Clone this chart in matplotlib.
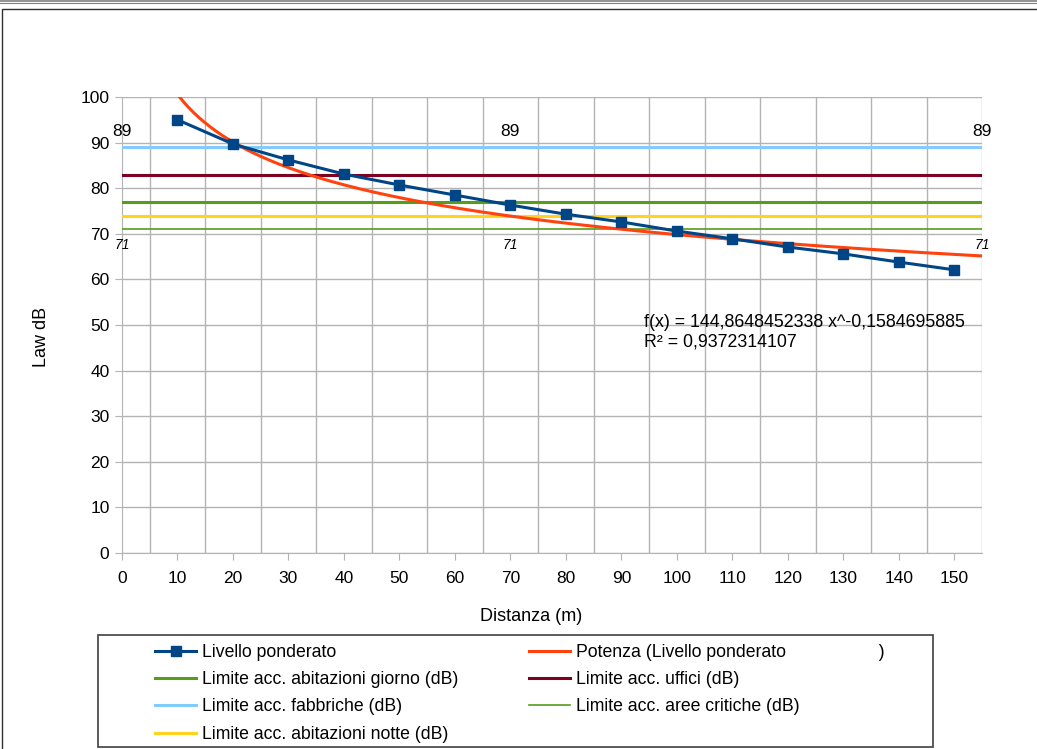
import numpy as np
import matplotlib.pyplot as plt
from matplotlib.patches import Rectangle
from matplotlib.lines import Line2D

plt.rcParams['font.family'] = ['Liberation Sans', 'DejaVu Sans']

# Dati
distanza = [10, 20, 30, 40, 50, 60, 70, 80, 90, 100, 110, 120, 130, 140, 150]
livello = [95.0, 89.7, 86.2, 83.1, 80.7, 78.5, 76.3, 74.3, 72.6, 70.6, 68.9, 67.1, 65.6, 63.8, 62.1]

# coefficienti della linea di tendenza (potenza) riportati sul grafico
coef_a = 144.8648452338
coef_b = -0.1584695885
r2 = 0.9372314107

limiti_nomi = ["Limite acc. abitazioni giorno (dB)", "Limite acc. uffici (dB)",
               "Limite acc. fabbriche (dB)", "Limite acc. aree critiche (dB)",
               "Limite acc. abitazioni notte (dB)"]
limiti_valori = [77, 83, 89, 71, 74]
limiti_colori = ["#579d1c", "#7e0021", "#83caff", "#579d1c", "#ffd320"]
limiti_spessori = [2.2, 2.2, 2.2, 1.2, 2.2]

etichette_x = [0, 70, 155]

W, H = 1037, 749
fig = plt.figure(figsize=(W / 100, H / 100), dpi=100)
ax = fig.add_axes([122/W, 1-553/H, (982-122)/W, (553-97)/H])

# cornice esterna
fig.add_artist(Line2D([0, 1], [1-0.8/H, 1-0.8/H], color="#808080", lw=1.2, transform=fig.transFigure))
fig.add_artist(Line2D([0, 1], [1-2.5/H, 1-2.5/H], color="#808080", lw=0.8, transform=fig.transFigure))
fig.add_artist(Rectangle((2/W, -0.05), 1.5, 1-9/H+0.05, transform=fig.transFigure,
                         fill=False, edgecolor="#303030", lw=1.0))

# linee orizzontali dei limiti
for val, col, lw in zip(limiti_valori, limiti_colori, limiti_spessori):
    ax.plot([0, 155], [val, val], color=col, lw=lw, zorder=3)

# linea di tendenza
xt = np.linspace(10, 155, 300)
ax.plot(xt, coef_a * xt ** coef_b, color="#ff420e", lw=2.2, zorder=4)

# serie misurata
ax.plot(distanza, livello, color="#004586", lw=2.2, marker="s", ms=7, zorder=5)

# etichette dati 89 / 71
for x in etichette_x:
    ax.annotate("89", (x, 89), xytext=(0, 6), textcoords="offset points",
                ha="center", va="bottom", fontsize=12.5, clip_on=False)
    ax.annotate("71", (x, 71), xytext=(0, -6), textcoords="offset points",
                ha="center", va="top", fontsize=10, style="italic", clip_on=False)

ax.text(94.1, 48.4, "f(x) = 144,8648452338 x^-0,1584695885\nR² = 0,9372314107",
        fontsize=12.8, va="center", ha="left", linespacing=1.15)

ax.set_xlim(0, 155)
ax.set_ylim(0, 100)
ax.set_xticks(range(0, 151, 10))
ax.set_xticks(range(5, 156, 10), minor=True)
ax.set_yticks(range(0, 101, 10))
ax.grid(which="minor", axis="x", color="#b3b3b3", lw=1)
ax.grid(which="major", axis="y", color="#b3b3b3", lw=1)
ax.set_axisbelow(True)
ax.tick_params(axis="both", which="major", length=5, color="#b3b3b3", labelsize=12.5, pad=4)
ax.tick_params(axis="x", which="minor", length=0)
ax.tick_params(axis="x", pad=8)
for s in ["top", "right"]:
    ax.spines[s].set_visible(False)
for s in ["left", "bottom"]:
    ax.spines[s].set_color("#b3b3b3")

ax.set_xlabel("Distanza (m)", fontsize=13)
ax.xaxis.set_label_coords(73.7/155, -(608-553)/(553-97))
ax.set_ylabel("Law dB", fontsize=13)
ax.yaxis.set_label_coords(-(122-50)/(982-122), (553-337)/(553-97))

# legenda: cornice + due colonne
fig.add_artist(Rectangle((98/W, 1-747/H), (933-98)/W, (747-635)/H, transform=fig.transFigure,
                         fill=False, edgecolor="#404040", lw=1.2))

col1 = [Line2D([], [], color="#004586", lw=2.2, marker="s", ms=7),
        Line2D([], [], color=limiti_colori[0], lw=limiti_spessori[0]),
        Line2D([], [], color=limiti_colori[2], lw=limiti_spessori[2]),
        Line2D([], [], color=limiti_colori[4], lw=limiti_spessori[4])]
lab1 = ["Livello ponderato", limiti_nomi[0], limiti_nomi[2], limiti_nomi[4]]
col2 = [Line2D([], [], color="#ff420e", lw=2.2),
        Line2D([], [], color=limiti_colori[1], lw=limiti_spessori[1]),
        Line2D([], [], color=limiti_colori[3], lw=limiti_spessori[3])]
lab2 = ["Potenza (Livello ponderato                   )", limiti_nomi[1], limiti_nomi[3]]

opts = dict(loc="upper left", fontsize=12.7, frameon=False, handlelength=2.35,
            handletextpad=0.3, borderpad=0, labelspacing=0.58, borderaxespad=0)
leg1 = fig.legend(col1, lab1, bbox_to_anchor=(155/W, 1-644/H), **opts)
leg2 = fig.legend(col2, lab2, bbox_to_anchor=(529/W, 1-644/H), **opts)

fig.savefig("out.png", dpi=100, facecolor="white")
